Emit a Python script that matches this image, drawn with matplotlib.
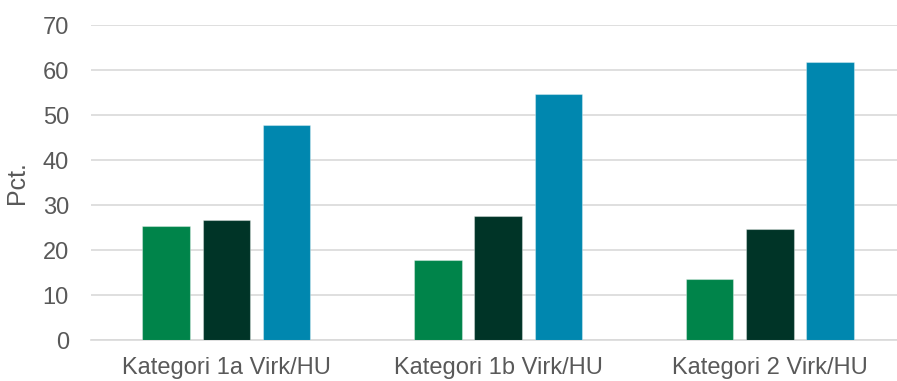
import numpy as np
import matplotlib.pyplot as plt

plt.rcParams['font.family'] = ['Liberation Sans', 'DejaVu Sans']

categories = ['Kategori 1a Virk/HU', 'Kategori 1b Virk/HU', 'Kategori 2 Virk/HU']
serie_1 = [25.4, 17.8, 13.7]
serie_2 = [26.6, 27.5, 24.6]
serie_3 = [47.8, 54.6, 61.7]
colors = ['#00844A', '#003427', '#0087AF']

text_col = '#595959'
grid_col = '#D9D9D9'

fig = plt.figure(figsize=(8.97, 3.81), dpi=100)
ax = fig.add_axes([90.5 / 897, 1 - 340.3 / 381, 1 - 90.5 / 897, (340.3 - 25) / 381])

x = np.arange(len(categories))
w = 0.175
step = 0.222
for i, (vals, c) in enumerate(zip([serie_1, serie_2, serie_3], colors)):
    ax.bar(x + (i - 1) * step, vals, width=w, color=c,
           edgecolor=(1, 1, 1, 0.35), linewidth=0.8, zorder=3)

ax.set_ylim(0, 70)
ax.set_xlim(-0.5, 2.468)
ax.set_yticks(np.arange(0, 71, 10))
ax.set_xticks(x)
ax.set_xticklabels(categories)
ax.yaxis.grid(True, color=grid_col, linewidth=1.2, zorder=0)
ax.set_axisbelow(True)
for s in ['top', 'right', 'left']:
    ax.spines[s].set_visible(False)
ax.spines['bottom'].set_color(grid_col)
ax.spines['bottom'].set_linewidth(1.2)
ax.tick_params(axis='both', length=0, labelsize=17, labelcolor=text_col)
ax.tick_params(axis='y', pad=15.5)
ax.tick_params(axis='x', pad=12)
ax.set_ylabel('Pct.', fontsize=18, color=text_col)
ax.yaxis.set_label_coords(-62 / 806.5, 0.5)

plt.savefig('out.png', dpi=100)
